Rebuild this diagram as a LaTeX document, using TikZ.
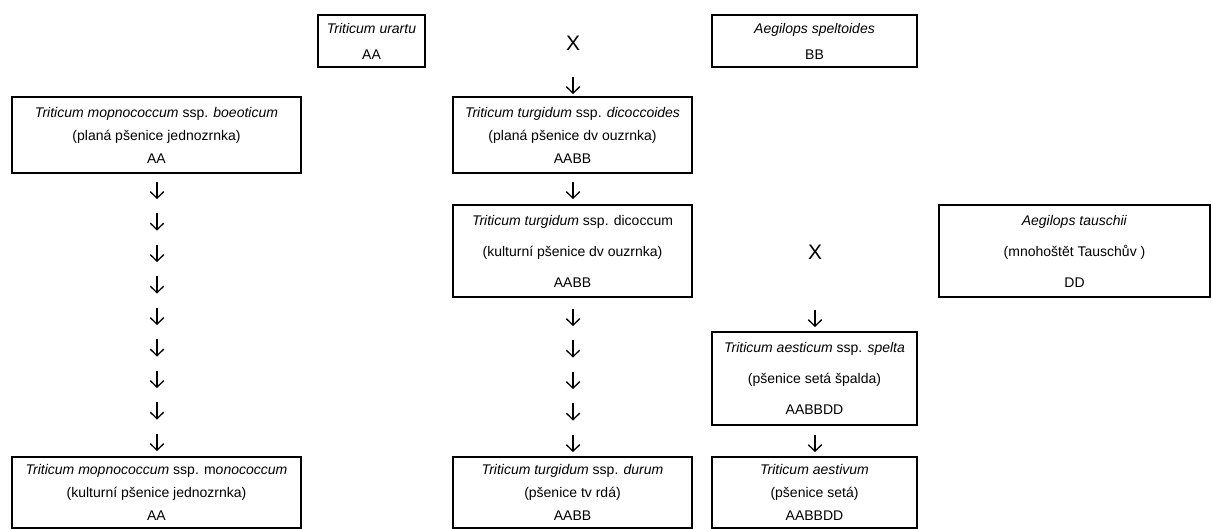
\documentclass[tikz,border=0pt]{standalone}
\usepackage{fontspec}
\setmainfont{Liberation Sans}
\begin{document}
\begin{tikzpicture}[x=1pt,y=-1pt,
  box/.style={draw, line width=1.6pt, inner sep=0pt, align=center, font=\fontsize{14}{23}\selectfont},
  tallbox/.style={box, font=\fontsize{14}{31}\selectfont},
  smallbox/.style={box, font=\fontsize{14}{26}\selectfont},
  darr/.style={inner sep=0pt, minimum width=13pt, minimum height=16pt},
  glyph/.style={line width=1.3pt, line join=miter},
  cross/.style={inner sep=0pt, font=\fontsize{21}{21}\selectfont}]
\useasboundingbox (0,0) rectangle (1213,529);

% top row
\node[smallbox, minimum width=107pt, minimum height=52pt] (urartu) at (371.5,41) {\textit{Triticum urartu}\\AA};
\node[cross] (x1) at (573,43) {X};
\node[smallbox, minimum width=205pt, minimum height=52pt] (spelt) at (814.5,41) {\textit{Aegilops speltoides}\\BB};
\node[darr] (a0) at (573,85) {};

% left column
\node[box, minimum width=289pt, minimum height=76pt] (boe) at (156.5,135) {\textit{Triticum mopnococcum} ssp. \textit{boeoticum}\\(planá pšenice jednozrnka)\\AA};
\foreach \i/\y in {1/190,2/221.5,3/253,4/284.5,5/316,6/347.5,7/379,8/410.5,9/442}
  \node[darr] (l\i) at (157,\y) {};
\node[box, minimum width=289pt, minimum height=71pt] (mono) at (156.5,492.5) {\textit{Triticum mopnococcum} ssp. m\textit{onococcum}\\(kulturní pšenice jednozrnka)\\AA};

% middle column
\node[box, minimum width=239pt, minimum height=76pt] (dicoi) at (572.5,135) {\textit{Triticum turgidum} ssp. \textit{dicoccoides}\\(planá pšenice dv ouzrnka)\\AABB};
\node[darr] (m0) at (573,190) {};
\node[tallbox, minimum width=239pt, minimum height=92pt] (dicoc) at (572.5,251) {\textit{Triticum turgidum} ssp. dicoccum\\(kulturní pšenice dv ouzrnka)\\AABB};
\foreach \i/\y in {1/317,2/348.5,3/380,4/411.5,5/443}
  \node[darr] (m\i) at (573,\y) {};
\node[box, minimum width=239pt, minimum height=71pt] (durum) at (572.5,492.5) {\textit{Triticum turgidum} ssp. \textit{durum}\\(pšenice tv rdá)\\AABB};

% right column
\node[cross] (x2) at (815,252) {X};
\node[tallbox, minimum width=271pt, minimum height=92pt] (tausch) at (1074.5,251) {\textit{Aegilops tauschii}\\(mnohoštět Tauschův )\\DD};
\node[darr] (r1) at (815,318) {};
\node[tallbox, minimum width=205pt, minimum height=93pt] (spelta) at (814.5,378.5) {\textit{Triticum aesticum} ssp. \textit{spelta}\\(pšenice setá špalda)\\AABBDD};
\node[darr] (r2) at (815,443) {};
\node[box, minimum width=205pt, minimum height=71pt] (aest) at (814.5,492.5) {\textit{Triticum aestivum}\\(pšenice setá)\\AABBDD};

% down-arrow glyphs
\foreach \n in {a0,l1,l2,l3,l4,l5,l6,l7,l8,l9,m0,m1,m2,m3,m4,m5,r1,r2} {
  \draw[glyph] (\n.north) -- (\n.south);
  \draw[glyph] ([yshift=6.5pt]\n.south west) -- (\n.south) -- ([yshift=6.5pt]\n.south east);
}
\end{tikzpicture}
\end{document}
